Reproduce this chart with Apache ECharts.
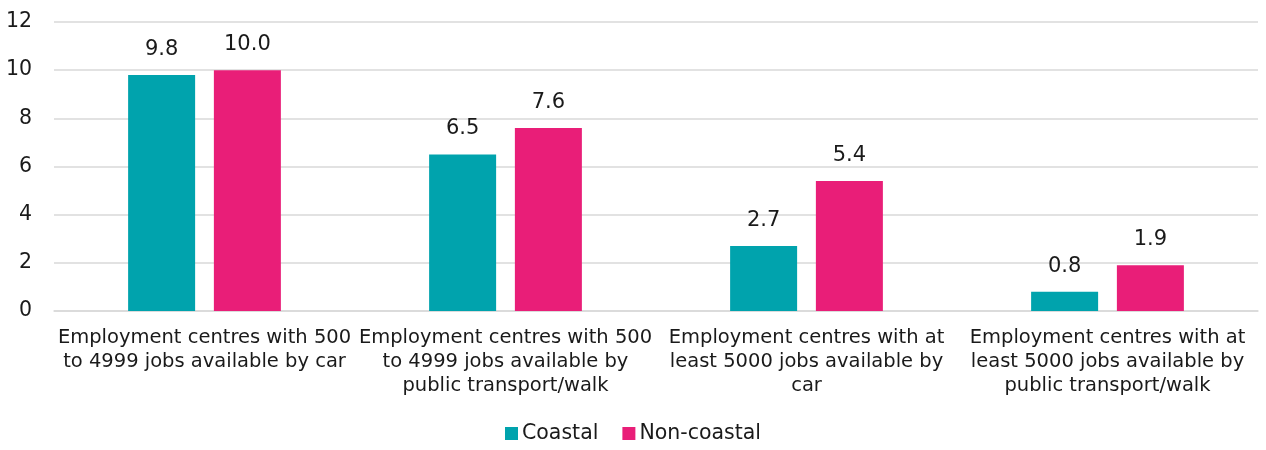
<!DOCTYPE html>
<html><head><meta charset="utf-8">
<script src="https://cdn.jsdelivr.net/npm/echarts@6/dist/echarts.min.js"></script>
<style>html,body{margin:0;padding:0;background:#fff}#c{width:1266px;height:450px}</style>
</head><body><div id="c"></div>
<script>
const categories = [
  "Employment centres with 500\nto 4999 jobs available by car",
  "Employment centres with 500\nto 4999 jobs available by\npublic transport/walk",
  "Employment centres with at\nleast 5000 jobs available by\ncar",
  "Employment centres with at\nleast 5000 jobs available by\npublic transport/walk"
];
const coastal = [9.8, 6.5, 2.7, 0.8];
const nonCoastal = [10.0, 7.6, 5.4, 1.9];
const seriesNames = ["Coastal", "Non-coastal"];

const font = "'DejaVu Sans', sans-serif";
const chart = echarts.init(document.getElementById('c'));
const lbl = {show:true, position:'top', distance:15, formatter: p => p.value.toFixed(1), color:'#1a1a1a', fontSize:21, fontFamily:font};
chart.setOption({
  animation:false,
  textStyle:{fontFamily:font},
  grid:{left:54, right:8, top:22, bottom:139, containLabel:false},
  legend:{bottom:1, left:'center', itemWidth:13, itemHeight:13, itemGap:24, icon:'rect',
    textStyle:{fontSize:20.5, color:'#1a1a1a', fontFamily:font, padding:[0,0,0,-1]}, data:seriesNames},
  xAxis:{type:'category', data:categories,
    axisLine:{show:true, lineStyle:{color:'#d9d9d9', width:1.5}}, axisTick:{show:false},
    axisLabel:{interval:0, color:'#1a1a1a', fontSize:19.5, lineHeight:24, margin:15, fontFamily:font}},
  yAxis:{type:'value', min:0, max:12, interval:2,
    axisLine:{show:false}, axisTick:{show:false},
    splitLine:{lineStyle:{color:'#d9d9d9', width:1.5}},
    axisLabel:{color:'#1a1a1a', fontSize:20.5, margin:22, fontFamily:font}},
  series:[
    {name:seriesNames[0], type:'bar', data:coastal, barWidth:67, barGap:'28%', itemStyle:{color:'#00A3AD'}, label:lbl},
    {name:seriesNames[1], type:'bar', data:nonCoastal, barWidth:67, itemStyle:{color:'#E91E78'}, label:lbl}
  ]
});
</script></body></html>
